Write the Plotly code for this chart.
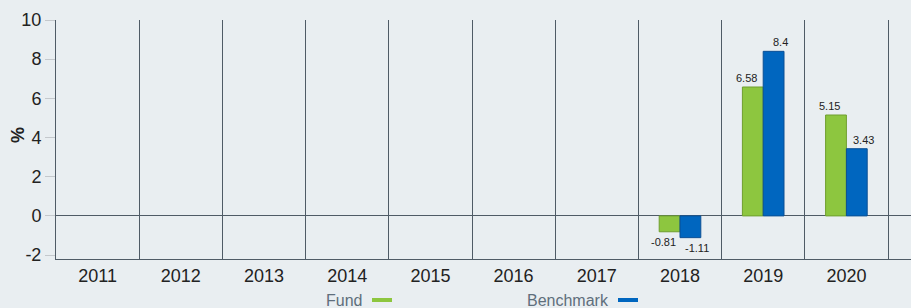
import plotly.graph_objects as go

years = ["2011", "2012", "2013", "2014", "2015", "2016", "2017", "2018", "2019", "2020"]
fund = [None, None, None, None, None, None, None, -0.81, 6.58, 5.15]
benchmark = [None, None, None, None, None, None, None, -1.11, 8.4, 3.43]
series_names = ["Fund", "Benchmark"]
y_ticks = [-2, 0, 2, 4, 6, 8, 10]
y_title = "%"

bg = "#e9eef1"
grid = "#4f5b66"
green = "#8dc63f"
green_edge = "#6f9e2e"
blue = "#0066bf"
blue_edge = "#0a4f94"

fig = go.Figure()
fig.add_trace(go.Bar(x=years, y=fund, name=series_names[0],
                     marker=dict(color=green, line=dict(color=green_edge, width=1))))
fig.add_trace(go.Bar(x=years, y=benchmark, name=series_names[1],
                     marker=dict(color=blue, line=dict(color=blue_edge, width=1))))

# value labels (slightly offset outward from each bar, as in the reference)
for vals, shift in ((fund, -17), (benchmark, 17)):
    for i, v in enumerate(vals):
        if v is None:
            continue
        fig.add_annotation(x=i, y=v, text=f"{v:g}", showarrow=False,
                           xshift=shift, yshift=(1 if v >= 0 else -2),
                           yanchor=("bottom" if v >= 0 else "top"),
                           font=dict(size=11, color="#222222"))

L, R, T, B = 56, 0, 20, 49
W, H = 911, 308
pw = W - L - R
ph = H - T - B

fig.update_layout(
    width=W, height=H,
    margin=dict(l=L, r=R, t=T, b=B),
    paper_bgcolor=bg, plot_bgcolor=bg,
    barmode="group", bargap=0.5, bargroupgap=0,
    showlegend=False,
    font=dict(family="Liberation Sans, Arial, sans-serif", color="#222222"),
)
fig.update_xaxes(
    type="category", range=[-0.5, 9.5 + 23 / 83.2],
    tickson="boundaries", ticks="", showgrid=True, gridcolor=grid, gridwidth=1,
    showline=True, linecolor=grid, linewidth=1,
    tickfont=dict(size=18, color="#222222"),
)
fig.update_yaxes(
    range=[-2.2, 10], tickvals=y_ticks, ticktext=[str(t) for t in y_ticks], showgrid=False,
    zeroline=True, zerolinecolor=grid, zerolinewidth=1,
    showline=True, linecolor=grid, linewidth=1,
    ticks="outside", ticklen=10, tickcolor="#c4c8cc",
    tickfont=dict(size=18, color="#222222"),
)

# y-axis title as rotated annotation
fig.add_annotation(text=f"<b>{y_title}</b>", xref="paper", yref="paper",
                   x=(18 - L) / pw, y=(T + ph - 135) / ph, xanchor="center", yanchor="middle",
                   textangle=-90, showarrow=False, font=dict(size=18, color="#222222"))

# custom legend: label followed by line swatch
legend_items = [(series_names[0], green, 364, 372), (series_names[1], blue, 611, 618)]
ly = (T + ph - 300) / ph
for name, col, txt_right, sw_left in legend_items:
    fig.add_annotation(text=name, xref="paper", yref="paper", x=(txt_right - L) / pw, y=ly,
                       xanchor="right", yanchor="middle", showarrow=False,
                       font=dict(size=16, color="#5f6f7c"))
    fig.add_shape(type="line", xref="paper", yref="paper",
                  x0=(sw_left - L) / pw, x1=(sw_left + 20 - L) / pw, y0=ly, y1=ly,
                  line=dict(color=col, width=4))

fig.write_html("out.html", config={"displayModeBar": False},
               post_script="document.body.style.margin='0';document.body.style.overflow='hidden';")
